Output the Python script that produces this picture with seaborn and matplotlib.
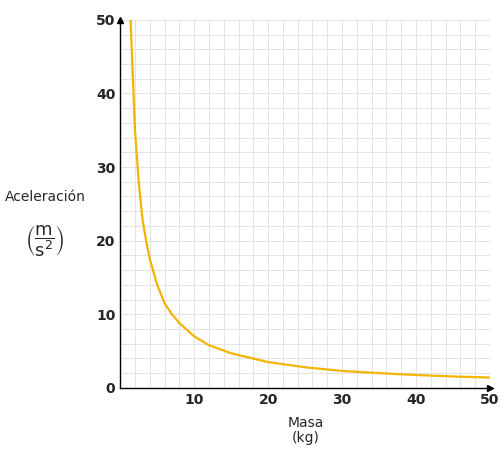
import matplotlib
matplotlib.use("Agg")
import matplotlib.pyplot as plt
import seaborn as sns
import pandas as pd

# valores
masa = [1.4, 2, 2.5, 3, 3.5, 4, 5, 6, 7, 8, 10, 12, 15, 20, 25, 30, 35, 40, 45, 50]
aceleracion = [50, 35, 28, 23, 20, 17.5, 14, 11.5, 10, 8.8, 7, 5.8, 4.7, 3.5, 2.8, 2.3, 2.0, 1.75, 1.55, 1.4]
ticks = [10, 20, 30, 40, 50]

sns.set_style("white")
plt.rcParams['font.family'] = ['DejaVu Sans']

df = pd.DataFrame({"Masa": masa, "Aceleracion": aceleracion})

fig = plt.figure(figsize=(5.03, 4.51), dpi=100)
ax = fig.add_axes([0.239, 0.14, 0.735, 0.816])
sns.lineplot(data=df, x="Masa", y="Aceleracion", ax=ax, color="#f2b400", linewidth=1.6)

ax.set_xlim(0, 50)
ax.set_ylim(0, 50)
ax.set_xticks(ticks)
ax.set_yticks([0] + ticks)
ax.set_xticks(range(0, 51, 2), minor=True)
ax.set_yticks(range(0, 51, 2), minor=True)
ax.grid(which="both", color="#e3e3e3", linewidth=0.7)
ax.set_axisbelow(True)
for s in ["top", "right"]:
    ax.spines[s].set_visible(False)
for s in ["left", "bottom"]:
    ax.spines[s].set_color("black")
    ax.spines[s].set_linewidth(1.0)
ax.tick_params(which="both", length=0)
ax.tick_params(labelsize=10)
for lab in ax.get_xticklabels() + ax.get_yticklabels():
    lab.set_fontweight("bold")
ax.plot(1, 0, ">k", transform=ax.transAxes, clip_on=False, markersize=5)
ax.plot(0, 1, "^k", transform=ax.transAxes, clip_on=False, markersize=5)

ax.set_xlabel("")
ax.set_ylabel("")
fig.text(0.607, 0.045, "Masa\n(kg)", ha="center", va="center", fontsize=10, linespacing=1.1)
fig.text(0.09, 0.563, "Aceleración", ha="center", va="center", fontsize=10)
fig.text(0.09, 0.465, r"$\left(\dfrac{\mathrm{m}}{\mathrm{s}^2}\right)$", ha="center", va="center", fontsize=13)

fig.savefig("out.png", dpi=100)
